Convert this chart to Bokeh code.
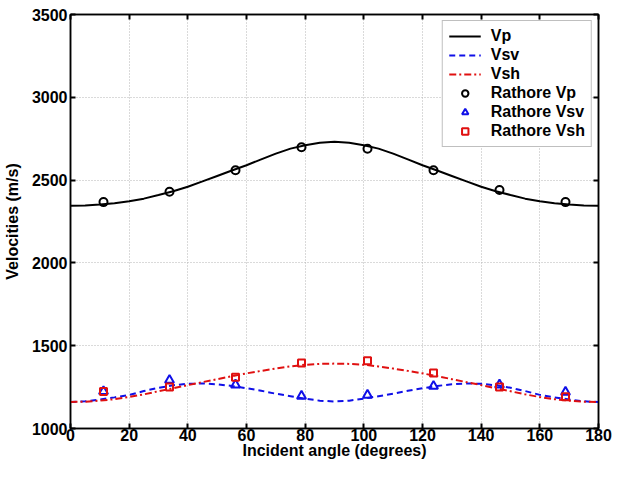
from bokeh.plotting import figure
from bokeh.models import LinearAxis, Legend, LegendItem, FixedTicker, Range1d, CustomJSTickFormatter
from bokeh.embed import file_html
from bokeh.resources import INLINE

# ---- data ----
angle = [0, 5, 10, 15, 20, 25, 30, 35, 40, 45, 50, 55, 60, 65, 70, 75, 80, 85, 90,
         95, 100, 105, 110, 115, 120, 125, 130, 135, 140, 145, 150, 155, 160, 165, 170, 175, 180]
vp = [2345, 2347, 2352, 2360, 2372, 2388, 2410, 2433, 2460, 2492, 2525, 2558, 2590, 2625, 2660, 2690, 2710, 2726, 2732,
      2726, 2710, 2690, 2660, 2625, 2590, 2558, 2525, 2492, 2460, 2433, 2410, 2388, 2372, 2360, 2352, 2347, 2345]
vsv = [1160, 1164, 1175, 1188, 1203, 1226, 1246, 1261, 1270, 1272, 1267, 1257, 1243, 1228, 1210, 1195, 1180, 1168, 1163,
       1168, 1180, 1195, 1210, 1228, 1243, 1257, 1267, 1272, 1270, 1261, 1246, 1226, 1203, 1188, 1175, 1164, 1160]
vsh = [1160, 1162, 1168, 1177, 1190, 1206, 1225, 1243, 1262, 1280, 1298, 1316, 1333, 1348, 1362, 1375, 1385, 1390, 1392,
       1390, 1385, 1375, 1362, 1348, 1333, 1316, 1298, 1280, 1262, 1243, 1225, 1206, 1190, 1177, 1168, 1162, 1160]

r_angle = [11.25, 33.75, 56.25, 78.75, 101.25, 123.75, 146.25, 168.75]
r_vp = [2367, 2430, 2560, 2698, 2689, 2560, 2440, 2367]
r_vsv = [1224, 1292, 1264, 1196, 1202, 1256, 1264, 1220]
r_vsh = [1224, 1250, 1310, 1395, 1409, 1335, 1250, 1192]

x_ticks = [0, 20, 40, 60, 80, 100, 120, 140, 160, 180]
y_ticks = [1000, 1500, 2000, 2500, 3000, 3500]

FONT = "Liberation Sans"

p = figure(width=615, height=461, output_backend="svg", toolbar_location=None,
           x_range=Range1d(0, 180), y_range=Range1d(1000, 3500),
           min_border_left=10, min_border_right=17, min_border_top=14, min_border_bottom=10)

p.outline_line_color = "black"
p.outline_line_width = 1.5
p.outline_line_alpha = 1

for ax in (p.xaxis[0], p.yaxis[0]):
    ax.major_label_text_font = FONT
    ax.major_label_text_font_style = "bold"
    ax.major_label_text_font_size = "16px"
    ax.major_label_text_color = "black"
    ax.axis_label_text_font = FONT
    ax.axis_label_text_font_style = "bold"
    ax.axis_label_text_font_size = "16px"
    ax.axis_label_text_color = "black"
    ax.major_tick_in = 5
    ax.major_tick_out = 0
    ax.minor_tick_in = 0
    ax.minor_tick_out = 0
    ax.axis_line_color = "black"
    ax.axis_line_width = 1.5
    ax.major_tick_line_width = 2

p.xaxis[0].ticker = FixedTicker(ticks=x_ticks)
p.yaxis[0].ticker = FixedTicker(ticks=y_ticks)
p.xaxis[0].axis_label = "Incident angle (degrees)"
p.yaxis[0].axis_label = "Velocities (m/s)"
p.xaxis[0].major_label_standoff = 0
p.xaxis[0].axis_label_standoff = -2
p.yaxis[0].major_label_standoff = 3
p.yaxis[0].axis_label_standoff = 8

# Mirror ticks on top and right (no labels)
blank = CustomJSTickFormatter(code="return '';")
top = LinearAxis(ticker=FixedTicker(ticks=x_ticks), formatter=blank,
                 major_tick_in=5, major_tick_out=0, minor_tick_in=0, minor_tick_out=0,
                 axis_line_color="black", axis_line_width=1.5, major_tick_line_width=2,
                 major_label_standoff=0)
right = LinearAxis(ticker=FixedTicker(ticks=y_ticks), formatter=blank,
                   major_tick_in=5, major_tick_out=0, minor_tick_in=0, minor_tick_out=0,
                   axis_line_color="black", axis_line_width=1.5, major_tick_line_width=2,
                   major_label_standoff=0)
p.add_layout(top, "above")
p.add_layout(right, "right")

p.xgrid.ticker = FixedTicker(ticks=x_ticks)
p.ygrid.ticker = FixedTicker(ticks=y_ticks)
for g in (p.xgrid[0], p.ygrid[0]):
    g.grid_line_color = "#b4b4b4"
    g.grid_line_dash = "1 2"
    g.grid_line_width = 1

l_vp = p.line(angle, vp, line_color="black", line_width=2)
l_vsv = p.line(angle, vsv, line_color="#1010e8", line_width=2, line_dash="6 4")
l_vsh = p.line(angle, vsh, line_color="#e01010", line_width=2, line_dash="7 3 2 3")
m_vp = p.scatter(r_angle, r_vp, marker="circle", size=8, fill_color=None,
                 line_color="black", line_width=2)
m_vsv = p.scatter(r_angle, r_vsv, marker="triangle", size=9, fill_color=None,
                  line_color="#1010e8", line_width=2)
m_vsh = p.scatter(r_angle, r_vsh, marker="square", size=7, fill_color=None,
                  line_color="#e01010", line_width=2)

legend = Legend(items=[
    LegendItem(label="Vp", renderers=[l_vp]),
    LegendItem(label="Vsv", renderers=[l_vsv]),
    LegendItem(label="Vsh", renderers=[l_vsh]),
    LegendItem(label="Rathore Vp", renderers=[m_vp]),
    LegendItem(label="Rathore Vsv", renderers=[m_vsv]),
    LegendItem(label="Rathore Vsh", renderers=[m_vsh]),
], location="top_right")
legend.label_text_font = FONT
legend.label_text_font_style = "bold"
legend.label_text_font_size = "16px"
legend.label_text_color = "black"
legend.label_standoff = 10
legend.label_height = 16
legend.glyph_height = 16
legend.glyph_width = 32
legend.spacing = 1
legend.padding = 6
legend.margin = 6
legend.border_line_color = "#808080"
legend.border_line_width = 1
legend.background_fill_color = "white"
legend.background_fill_alpha = 1
p.add_layout(legend)

open("out.html", "w").write(file_html(p, INLINE))
